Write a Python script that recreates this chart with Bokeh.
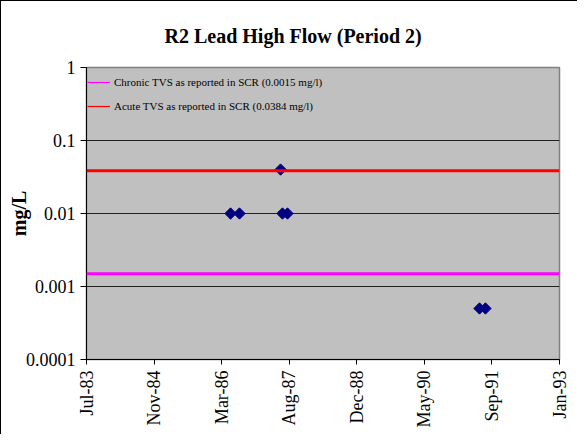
from datetime import datetime, timedelta
from bokeh.plotting import figure
from bokeh.models import FixedTicker, CustomJSTickFormatter, Span, Legend, LegendItem, Range1d
from bokeh.embed import file_html
from bokeh.resources import INLINE
import math

# ---- data ----
title_text = "R2 Lead High Flow (Period 2)"
sample_dates = ["1986-06-01", "1986-08-06", "1987-06-06", "1987-06-20", "1987-07-27",
                "1991-06-17", "1991-07-31"]
lead_mg_l = [0.01, 0.01, 0.04, 0.01, 0.01, 0.0005, 0.0005]
chronic_tvs = 0.0015
acute_tvs = 0.0384
chronic_label = "Chronic TVS as reported in SCR (0.0015 mg/l)"
acute_label = "Acute TVS as reported in SCR (0.0384 mg/l)"
x_start = "1983-07-01"
tick_step_days = 500
n_ticks = 8
y_ticks = [0.0001, 0.001, 0.01, 0.1, 1]
y_tick_labels = ["0.0001", "0.001", "0.01", "0.1", "1"]

def ms(d):
    return (d - datetime(1970, 1, 1)).total_seconds() * 1000.0

start = datetime.strptime(x_start, "%Y-%m-%d")
tick_dates = [start + timedelta(days=tick_step_days * i) for i in range(n_ticks)]
tick_ms = [ms(d) for d in tick_dates]
xs = [ms(datetime.strptime(d, "%Y-%m-%d")) for d in sample_dates]

font = "Liberation Serif"

p = figure(width=577, height=434, output_backend="svg", toolbar_location=None,
           y_axis_type="log", x_range=Range1d(tick_ms[0], tick_ms[-1]),
           y_range=Range1d(0.0001, 1),
           min_border_left=85, min_border_right=19, min_border_top=66, min_border_bottom=76,
           title=title_text)
p.title.align = "left"
p.title.vertical_align = "top"
p.title.text_font = font
p.title.text_font_size = "20px"
p.title.text_font_style = "bold"
p.title.text_color = "black"
p.title.offset = 78
p.title.standoff = 38

p.background_fill_color = "#C0C0C0"
p.border_fill_color = "white"
p.outline_line_color = "#808080"
p.outline_line_width = 1.5
p.styles = {"border-left": "1px solid black", "border-top": "1px solid black"}

# axes
p.xaxis.ticker = FixedTicker(ticks=tick_ms)
p.xaxis.formatter = CustomJSTickFormatter(code="""
const m = ["Jan","Feb","Mar","Apr","May","Jun","Jul","Aug","Sep","Oct","Nov","Dec"];
const d = new Date(tick);
const y = String(d.getUTCFullYear() % 100).padStart(2, "0");
return m[d.getUTCMonth()] + "-" + y;
""")
p.xaxis.major_label_orientation = math.pi / 2
p.xaxis.major_label_text_font = font
p.xaxis.major_label_text_font_size = "18px"
p.xaxis.major_label_text_color = "black"
p.xaxis.major_label_standoff = 6
p.xaxis.minor_tick_line_color = None
p.xaxis.major_tick_in = 0
p.xaxis.major_tick_out = 5
p.xaxis.axis_line_color = "black"
p.xaxis.major_tick_line_color = "black"

p.yaxis.ticker = FixedTicker(ticks=y_ticks)
p.yaxis.major_label_overrides = {t: l for t, l in zip(y_ticks, y_tick_labels)}
p.yaxis.major_label_text_font = font
p.yaxis.major_label_text_font_size = "18px"
p.yaxis.major_label_text_color = "black"
p.yaxis.major_label_standoff = 5
p.yaxis.minor_tick_line_color = None
p.yaxis.major_tick_in = 0
p.yaxis.major_tick_out = 6
p.yaxis.axis_line_color = "black"
p.yaxis.major_tick_line_color = "black"
p.yaxis.axis_label = "mg/L"
p.yaxis.axis_label_text_font = font
p.yaxis.axis_label_text_font_size = "20px"
p.yaxis.axis_label_text_font_style = "bold"
p.yaxis.axis_label_text_color = "black"
p.yaxis.axis_label_standoff = -7

p.xgrid.grid_line_color = None
p.ygrid.grid_line_color = "#202020"
p.ygrid.grid_line_width = 1
p.ygrid.grid_line_alpha = 1

# threshold lines
p.add_layout(Span(location=acute_tvs, dimension="width", line_color="#FF0000", line_width=3))
p.add_layout(Span(location=chronic_tvs, dimension="width", line_color="#FF00FF", line_width=3))

# legend-only renderers (drawn below the visible range)
off_y = [1e-7, 1e-7]
off_x = [tick_ms[0], tick_ms[-1]]
r_chronic = p.line(x=off_x, y=off_y, line_color="#FF00FF", line_width=1.2)
r_acute = p.line(x=off_x, y=off_y, line_color="#FF0000", line_width=1.2)

# data points
p.scatter(x=xs, y=lead_mg_l, marker="square", angle=math.pi / 4, size=8,
          fill_color="#000080", line_color="#000080")

legend = Legend(items=[LegendItem(label=chronic_label, renderers=[r_chronic]),
                       LegendItem(label=acute_label, renderers=[r_acute])],
                location=(1, 246), background_fill_alpha=0, border_line_color=None,
                label_text_font=font, label_text_font_size="11px", label_text_color="black",
                glyph_width=23, glyph_height=14, spacing=10, padding=0, margin=0,
                label_standoff=4)
p.add_layout(legend)

open("out.html", "w").write(file_html(p, INLINE))
